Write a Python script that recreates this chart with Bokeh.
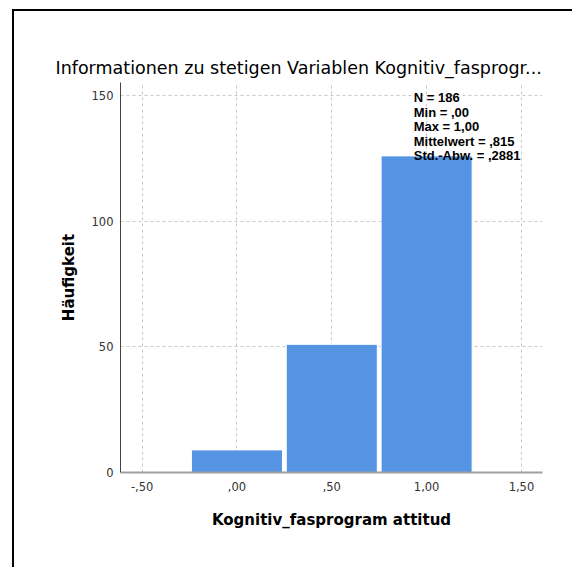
from bokeh.plotting import figure
from bokeh.models import Range1d, FixedTicker, Label
from bokeh.embed import file_html
from bokeh.resources import INLINE

# ---- data ----
bin_centers = [0.0, 0.5, 1.0]
counts = [9, 51, 126]
x_ticks = [-0.5, 0.0, 0.5, 1.0, 1.5]
x_tick_labels = ["-,50", ",00", ",50", "1,00", "1,50"]
y_ticks = [0, 50, 100, 150]
stats_lines = ["N = 186", "Min = ,00", "Max = 1,00", "Mittelwert = ,815", "Std.-Abw. = ,2881"]
title_text = "Informationen zu stetigen Variablen Kognitiv_fasprogr..."
x_label = "Kognitiv_fasprogram attitud"
y_label = "Häufigkeit"

FONT = "Liberation Sans"
FONT2 = "DejaVu Sans"
BAR = "#5494E3"

p = figure(width=560, height=558, output_backend="svg", toolbar_location=None,
           x_range=Range1d(-0.614, 1.611), y_range=Range1d(0, 155.2),
           min_border_left=106, min_border_right=32, min_border_top=71, min_border_bottom=97)
p.outline_line_color = None
p.background_fill_color = "white"
p.border_fill_color = "white"
p.styles = {"margin-left": "12px", "margin-top": "9px",
            "border-left": "2px solid black", "border-top": "2px solid black"}

p.title.text = title_text
p.title.align = "left"
p.title.offset = -65
p.title.text_font = FONT2
p.title.text_font_size = "17.5px"
p.title.text_font_style = "normal"
p.title.text_color = "black"
p.title.standoff = 10

p.vbar(x=bin_centers, top=counts, width=0.48, bottom=0,
       fill_color=BAR, line_color="white", line_width=1)

# axes
p.xaxis.ticker = FixedTicker(ticks=x_ticks)
p.xaxis.major_label_overrides = {t: l for t, l in zip(x_ticks, x_tick_labels)}
p.yaxis.ticker = FixedTicker(ticks=y_ticks)
for ax in (p.xaxis, p.yaxis):
    ax.major_tick_out = 0
    ax.major_tick_in = 0
    ax.minor_tick_out = 0
    ax.minor_tick_in = 0
    ax.major_label_text_font = FONT2
    ax.major_label_text_font_size = "11.5px"
    ax.major_label_text_color = "#333333"
    ax.axis_label_text_font = FONT2
    ax.axis_label_text_font_size = "15px"
    ax.axis_label_text_font_style = "bold"
    ax.axis_label_text_color = "black"
p.xaxis.axis_label = x_label
p.yaxis.axis_label = y_label
p.xaxis.axis_line_color = "#a0a0a0"
p.xaxis.axis_line_width = 2
p.yaxis.axis_line_color = "#444444"
p.yaxis.axis_line_width = 1
p.xaxis.major_label_standoff = 9
p.xaxis.axis_label_standoff = 17
p.yaxis.major_label_standoff = 7
p.yaxis.axis_label_standoff = 11

# grid
p.xgrid.ticker = FixedTicker(ticks=x_ticks)
p.ygrid.ticker = FixedTicker(ticks=y_ticks[1:])
for g in (p.xgrid, p.ygrid):
    g.grid_line_color = "#c8c8c8"
    g.grid_line_dash = "3 3"
    g.grid_line_width = 1

# stats box
for i, s in enumerate(stats_lines):
    p.add_layout(Label(x=0.932, y=152.2, y_offset=-14.6 * i, text=s, text_align="left",
                       text_baseline="top", text_font=FONT, text_font_size="13px",
                       text_font_style="bold", text_color="black"))

open("out.html", "w").write(file_html(p, INLINE))
